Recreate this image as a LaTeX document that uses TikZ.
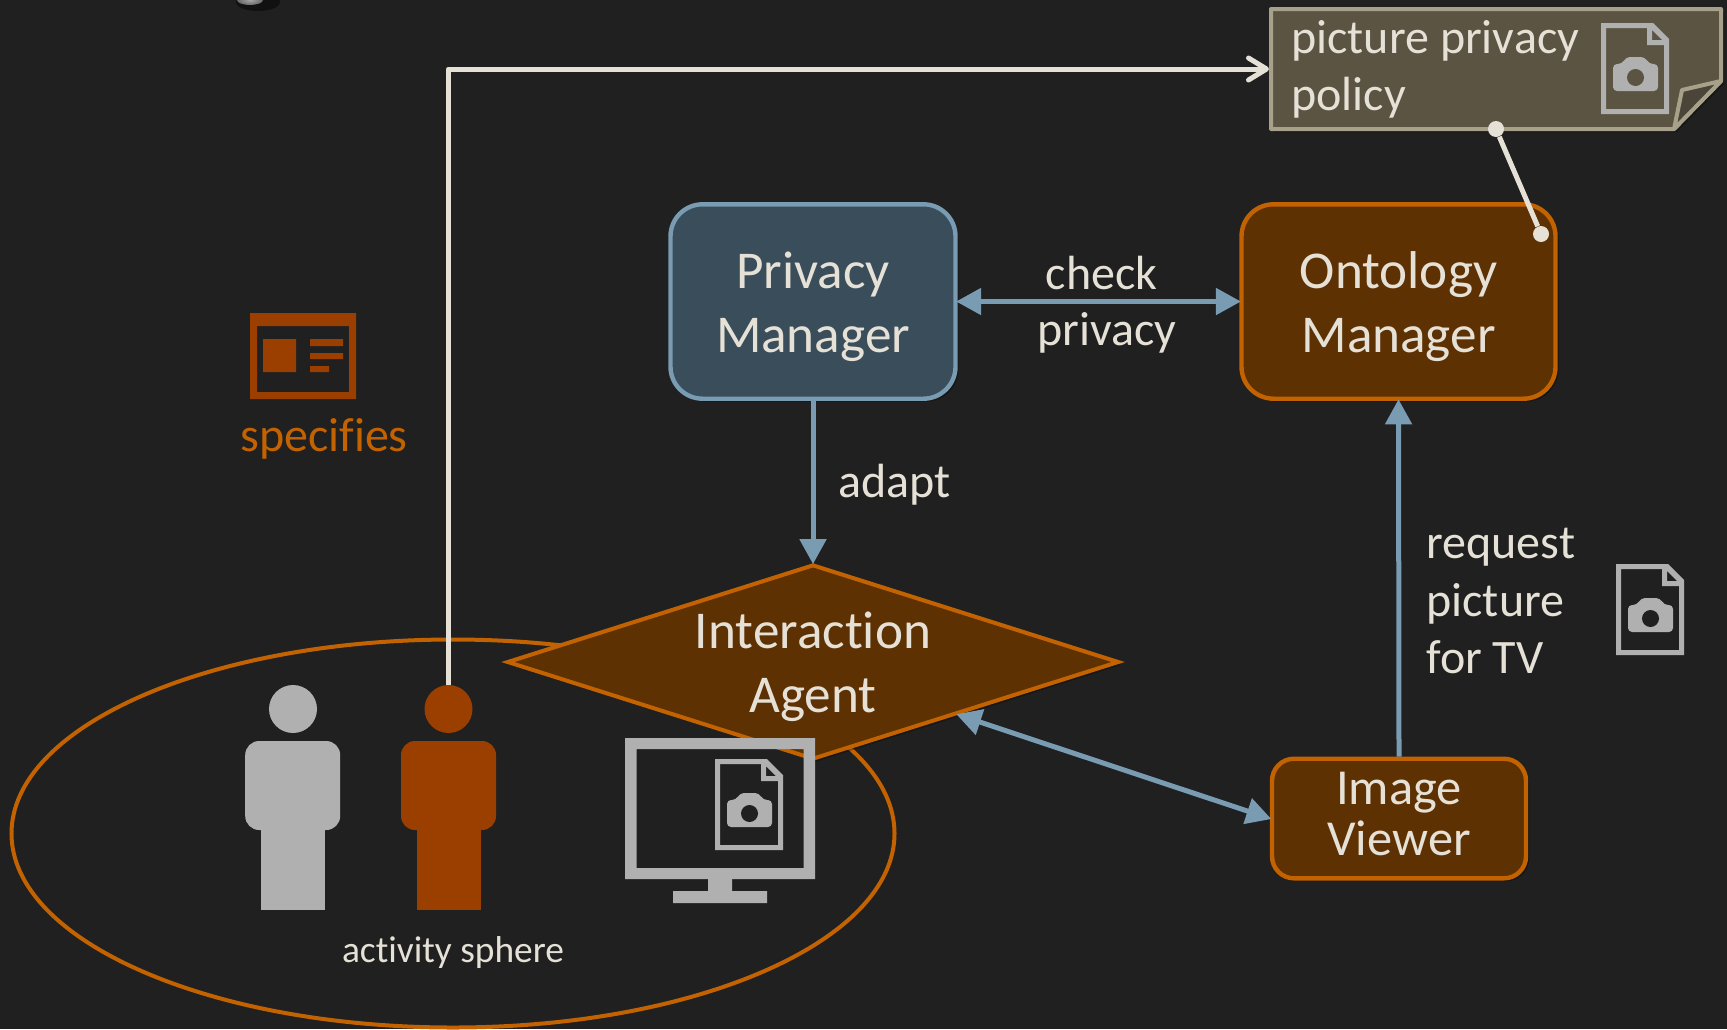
\documentclass[tikz,border=0pt]{standalone}
\usepackage{fontspec}
\setmainfont{Carlito}[Ligatures=NoCommon]
\usetikzlibrary{shapes.geometric,arrows.meta,shadows}
\definecolor{bgc}{HTML}{202020}
\definecolor{brstroke}{HTML}{C26200}
\definecolor{brfill}{HTML}{5E3103}
\definecolor{blstroke}{HTML}{7A9CB3}
\definecolor{blfill}{HTML}{3A4D5A}
\definecolor{txt}{HTML}{E6E1D6}
\definecolor{persono}{HTML}{9B3F00}
\definecolor{persong}{HTML}{B0B0B0}
\definecolor{notef}{HTML}{5B5443}
\definecolor{notes}{HTML}{A8A18A}
\definecolor{notefold}{HTML}{4A4538}
\newcommand{\downshift}{\rule{0pt}{23.5pt}}
\newcommand{\upshift}{\rule[-4.4pt]{0pt}{4.4pt}}
\tikzset{
  softshadow/.style={drop shadow={shadow xshift=1.5pt,shadow yshift=-1.5pt,opacity=.25,fill=black}},
  boxbase/.style={rounded corners=16pt,line width=2.2pt,text=txt,align=center,inner sep=0pt,softshadow},
  pmbox/.style={boxbase,draw=blstroke,fill=blfill,minimum width=142.5pt,minimum height=97.2pt,font=\fontsize{26.6}{32}\selectfont},
  ombox/.style={boxbase,draw=brstroke,fill=brfill,minimum width=157pt,minimum height=97.2pt,font=\fontsize{26.6}{32}\selectfont},
  ivbox/.style={boxbase,rounded corners=11pt,draw=brstroke,fill=brfill,minimum width=127pt,minimum height=59.8pt,font=\fontsize{25.2}{25.5}\selectfont},
  iadiamond/.style={diamond,draw=brstroke,fill=brfill,line width=2pt,line join=miter,shape aspect=3.14,inner sep=0pt,minimum width=306pt,minimum height=97.5pt,text=txt,align=center,font=\fontsize{26.6}{32}\selectfont,softshadow},
  lbl/.style={text=txt,align=center,inner sep=0pt,font=\fontsize{24}{28}\selectfont},
  bluearrow/.style={draw=blstroke,line width=2.5pt,shorten >=-.8pt,shorten <=-.8pt,{Triangle[length=12.5pt,width=13pt]}-{Triangle[length=12.5pt,width=13pt]}},
  blueone/.style={draw=blstroke,line width=2.5pt,shorten >=-.8pt,-{Triangle[length=12.5pt,width=13pt]}},
  whitearrow/.style={draw=txt,line width=2.5pt,line join=round,-{Straight Barb[length=9pt,width=11pt,round]}},
  whitelink/.style={draw=txt,line width=2.5pt},
  dotnode/.style={circle,fill=txt,inner sep=0pt,minimum size=8pt},
  heado/.style={circle,fill=persono,inner sep=0pt,minimum size=24pt},
  headg/.style={circle,fill=persong,inner sep=0pt,minimum size=24pt},
  docicon/.pic={
    \fill[persong,even odd rule]
      (0,0)--(52,0)--(68,16)--(68,91)--(0,91)--cycle
      (5,5)--(46,5)--(46,22)--(63,22)--(63,86)--(5,86)--cycle
      (51,7)--(51,17)--(61,17)--cycle;
    \fill[persong,even odd rule,rounded corners=2pt]
      (12,41)--(21,41)--(25,34)--(44,34)--(48,41)--(57,41)--(57,68)--(12,68)--cycle;
    \fill[#1] (34.5,54.5) circle (8.5);
  },
  personshape/.pic={
    \fill[pic actions,rounded corners=7pt] (0,0) rectangle (95,89);
    \fill[pic actions] (15.5,80) rectangle (80,169);
  }
}
\begin{document}
\begin{tikzpicture}[x=.5pt,y=-.5pt]
\fill[bgc] (0,0) rectangle (1727,1029);
\useasboundingbox (0,0) rectangle (1727,1029);
% stray object cut off by the top edge
\begin{scope}
\clip (0,0) rectangle (1727,1029);
\fill[black,opacity=.45] (258,2) ellipse (22 and 9);
\shade[inner color=white!65!black,outer color=black!60] (250,0) ellipse (13 and 5);
\end{scope}
% activity sphere
\node[ellipse,draw=brstroke,line width=2pt,inner sep=0pt,minimum width=441.5pt,minimum height=194pt] (sphere) at (453,833.5) {};
\node[text=txt,inner sep=0pt,font=\fontsize{18.7}{22}\selectfont,anchor=base] (spherelbl) at (453,962) {activity sphere};
% people
\pic[fill=persong] at (245.2,741) {personshape};
\pic[fill=persono] at (401,741) {personshape};
\node[headg] (headg) at (293,709) {};
\node[heado] (heado) at (448.5,709) {};
% note
\fill[black,opacity=.25] (1274,12)--(1724,12)--(1724,84)--(1677,132)--(1274,132)--cycle;
\draw[notes,fill=notef,line width=2pt,line join=round] (1271,9)--(1721,9)--(1721,81)--(1674,129)--(1271,129)--cycle;
\draw[notes,fill=notefold,line width=2pt,line join=round] (1721,81)--(1682,90)--(1674,129)--cycle;
\pic at (1601,23) {docicon=notef};
\node[text=txt,align=left,inner sep=0pt,anchor=west,font=\fontsize{24}{28.5}\selectfont] (notetext) at (1291,69) {picture privacy\\policy};
\coordinate (notearr) at (1269,69);
\node[dotnode] (dota) at (1496,129) {};
% boxes
\node[pmbox] (pm) at (813,301.5) {\downshift Privacy\\Manager};
\node[ombox] (om) at (1398.5,301.5) {\downshift Ontology\\Manager};
\node[ivbox] (iv) at (1399,818.5) {Image\\Viewer\upshift};
\node[iadiamond] (ia) at (813,662) {\rule{0pt}{22.6pt}Interaction\\Agent};
\node[dotnode] (dotb) at (1541,234) {};
% connectors
\draw[whitearrow] (heado.north) |- (notearr);
\draw[whitelink] (dota) -- (dotb);
\draw[bluearrow] (pm.east) -- (om.west);
\draw[blueone] (pm.south) -- (ia.north);
\draw[blueone] (iv.north) -- (om.south);
\draw[bluearrow] (ia.-20.5) -- (iv.west);
% labels
\node[lbl,anchor=base] (lcheck) at (1101.5,289) {check};
\node[lbl,anchor=base] (lpriv) at (1107,345) {privacy};
\node[lbl,anchor=base] (ladapt) at (894.5,497) {adapt};
\node[lbl,align=left,anchor=west,font=\fontsize{24}{28.7}\selectfont] (lreq) at (1426,601) {request\\picture\\for TV};
\node[inner sep=0pt,anchor=base,text=brstroke,font=\fontsize{24}{28}\selectfont] (lspec) at (324,451) {specifies};
% specifies icon
\fill[persono,even odd rule] (250,313) rectangle (356,399) (257,326) rectangle (349,392);
\fill[persono] (263,339) rectangle (296,372) (310,339) rectangle (343,346) (310,353) rectangle (343,359) (310,366) rectangle (329,372);
% picture icon
\pic at (1616,564) {docicon=bgc};
% monitor
\fill[persong,even odd rule] (625,738) rectangle (815,879) (636.6,749) rectangle (803.7,868);
\fill[persong] (708,879) rectangle (732,891) (673,891) rectangle (767,903);
\pic at (715,759) {docicon=bgc};
\end{tikzpicture}
\end{document}
